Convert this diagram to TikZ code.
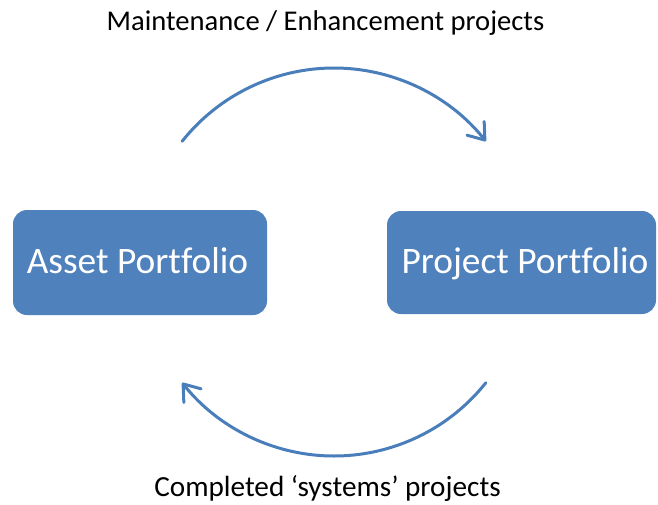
\documentclass[tikz,border=0pt]{standalone}
\usepackage{fontspec}
\setmainfont{Carlito}[Ligatures={NoCommon,TeX}]
\usetikzlibrary{arrows.meta}
\definecolor{officeblue}{HTML}{4F81BD}
\definecolor{arcblue}{HTML}{4A7EBB}
\begin{document}
\begin{tikzpicture}[x=1pt,y=-1pt,
  portfolio/.style={rectangle, rounded corners=14pt, fill=officeblue, inner sep=0pt},
  boxtext/.style={anchor=base, text=white, inner sep=0pt, font=\fontsize{37.4}{42}\selectfont},
  caption/.style={anchor=base, inner sep=0pt},
  cyclearc/.style={arcblue, line width=3pt, line cap=round,
    -{Straight Barb[length=15pt, width=22pt, line width=3pt, round]}}]
\useasboundingbox (0,0) rectangle (658,504);

% the two portfolios
\node[portfolio, minimum width=254pt, minimum height=105pt] (asset) at (140,262.5) {};
\node[portfolio, minimum width=269pt, minimum height=103pt] (project) at (521.5,262.5) {};
\node[boxtext] (assettext) at (137.5,273) {Asset Portfolio};
\node[boxtext] (projecttext) at (525,273) {Project Portfolio};

% cycle captions
\node[caption, font=\fontsize{28.6}{32}\selectfont] (toplabel) at (325.5,30)
  {Maintenance / Enhancement projects};
\node[caption, font=\fontsize{29.2}{32}\selectfont] (botlabel) at (327.5,496)
  {Completed ‘systems’ projects};

% cycle arcs on a common circle round the centre (y axis points down)
\coordinate (hub) at (334,262);
\draw[cyclearc] ([shift={(-141.5:194)}]hub) arc[start angle=-141.5, end angle=-38.5, radius=194];
\draw[cyclearc] ([shift={(38.5:194)}]hub) arc[start angle=38.5, end angle=141.5, radius=194];
\end{tikzpicture}
\end{document}
